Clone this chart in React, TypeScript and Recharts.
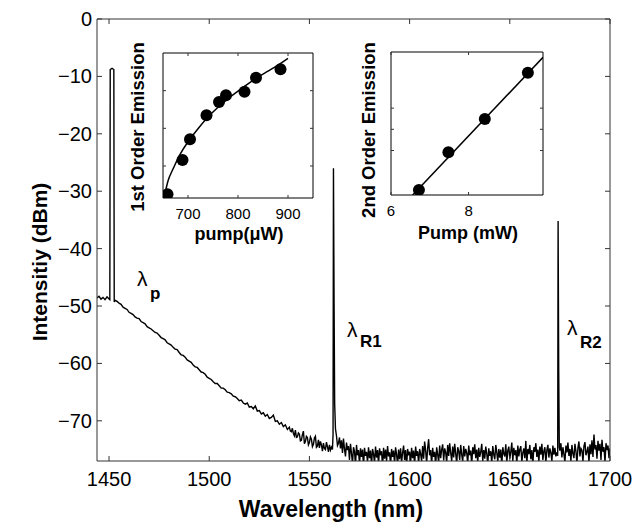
import React from 'react';
import { LineChart, Line, XAxis, YAxis, ComposedChart, Scatter } from 'recharts';

const FONT = '"Liberation Sans", Arial, Helvetica, sans-serif';
const AXIS = '#333';

// ---- main spectrum ----
const xTicks = [1450, 1500, 1550, 1600, 1650, 1700];
const yTicks = [0, -10, -20, -30, -40, -50, -60, -70];

// plateau left of the pump and the pump line itself
const pumpWl = [1444, 1445, 1446, 1447, 1448, 1449, 1449.8, 1450.4, 1450.6, 1451.5, 1452.4, 1452.6, 1453];
const pumpDb = [-48.6, -48.3, -48.8, -48.5, -48.9, -48.4, -48.7, -48.9, -8.8, -8.6, -8.8, -49.3, -49.0];

// falling pump wing, 1454..1539 nm every 1 nm
const wingDb = [
  -49.2, -49.5, -49.7, -50.2, -50.4, -50.6, -51.1, -51.3, -51.5, -51.9,
  -52.1, -52.2, -52.7, -52.9, -53.1, -53.6, -53.8, -54.0, -54.3, -54.6,
  -54.7, -55.1, -55.5, -55.7, -55.9, -56.4, -56.6, -56.8, -57.2, -57.5,
  -57.6, -58.1, -58.5, -58.6, -58.9, -59.4, -59.6, -59.8, -60.3, -60.6,
  -60.7, -61.1, -61.5, -61.6, -61.9, -62.4, -62.6, -62.8, -63.2, -63.5,
  -63.5, -63.9, -64.3, -64.3, -64.6, -65.0, -65.1, -65.3, -65.7, -65.8,
  -66.1, -66.5, -66.4, -66.9, -67.1, -66.9, -67.6, -67.5, -67.9, -67.4,
  -68.3, -68.2, -68.8, -68.6, -69.2, -68.9, -69.6, -69.4, -69.0, -70.1,
  -70.0, -70.6, -70.3, -71.0, -70.7, -71.5,
];

// noisy tail before the first Stokes line, 1540..1561.5 nm every 0.5 nm
const tailDb = [
  -71.1, -71.8, -71.9, -71.3, -72.2, -72.6, -71.6, -72.9, -72.8, -72.1,
  -72.3, -73.5, -73.4, -72.4, -71.8, -74.0, -73.6, -72.7, -72.9, -74.2,
  -73.8, -72.8, -73.2, -74.5, -74.1, -73.0, -72.7, -74.6, -74.4, -73.3,
  -74.7, -73.6, -74.2, -75.3, -73.9, -74.8, -75.0, -73.7, -74.5, -75.4,
  -74.2, -75.1, -74.6, -75.0,
];

const r1Wl = [1561.8, 1562.0, 1562.3, 1562.6, 1563.0, 1563.5, 1564.0];
const r1Db = [-72.4, -26.0, -49, -67, -71.4, -72.6, -74.3];

// noise floor, 1564.5..1673.5 nm every 0.5 nm
const floorDb = [
  -73.9, -72.9, -74.8, -73.4, -75.6, -73.1, -74.9, -76.2, -73.8, -75.1,
  -74.4, -76.8, -74.0, -75.7, -77.4, -74.6, -75.3, -77.8, -74.2, -76.0,
  -75.1, -77.6, -74.8, -76.3, -75.0, -77.9, -74.7, -76.1, -75.4, -77.2,
  -74.6, -76.5, -75.2, -77.7, -74.9, -75.8, -77.3, -74.5, -76.4, -75.1,
  -77.5, -74.8, -76.0, -75.3, -78.0, -74.7, -76.6, -75.0, -77.1, -74.4,
  -76.2, -75.5, -77.8, -74.9, -76.3, -75.2, -77.4, -74.6, -75.9, -77.6,
  -75.0, -76.7, -74.8, -77.2, -75.6, -74.3, -76.8, -75.1, -77.9, -74.9,
  -76.0, -75.4, -77.3, -74.7, -76.5, -75.2, -77.7, -74.5, -76.1, -75.3,
  -77.5, -74.9, -75.8, -77.0, -74.4, -76.6, -73.6, -75.2, -77.4, -74.8,
  -73.2, -76.0, -75.1, -77.6, -74.7, -76.3, -75.4, -77.8, -74.6, -75.9,
  -77.2, -74.3, -76.5, -75.0, -74.1, -76.9, -74.8, -75.5, -77.3, -74.2,
  -76.1, -73.9, -75.6, -77.0, -74.5, -76.4, -74.0, -75.7, -77.5, -74.6,
  -75.3, -76.8, -74.2, -75.9, -77.1, -74.4, -76.2, -74.9, -75.6, -77.4,
  -74.3, -76.0, -75.2, -77.7, -74.6, -75.8, -74.1, -76.5, -75.0, -77.2,
  -74.7, -76.3, -75.4, -74.0, -77.0, -75.1, -76.6, -74.5, -75.7, -77.6,
  -74.8, -76.1, -75.3, -77.4, -74.4, -75.9, -76.7, -74.2, -75.5, -77.1,
  -74.9, -76.4, -75.0, -77.8, -74.6, -75.7, -76.2, -74.1, -77.3, -75.2,
  -74.5, -76.6, -75.4, -73.8, -77.0, -74.7, -76.0, -75.1, -77.5, -74.3,
  -76.2, -75.0, -74.4, -77.2, -75.6, -74.8, -76.5, -73.5, -77.4, -74.9,
  -75.8, -74.2, -76.7, -75.1, -77.6, -74.6, -75.4, -73.9, -76.3, -75.0,
  -77.1, -74.5, -75.9, -74.0, -76.8, -75.3, -74.6, -77.3, -75.1, -74.2,
  -76.4, -74.8, -75.6, -77.0, -74.3, -75.9, -74.7, -76.2, -75.5,
];

const r2Wl = [1673.9, 1674.1, 1674.4, 1674.7];
const r2Db = [-76.1, -35.2, -61, -74.6];

// floor after the second Stokes line, 1675..1700 nm every 0.5 nm
const endDb = [
  -75.2, -73.9, -76.4, -74.6, -75.8, -77.2, -74.3, -75.5, -73.8, -76.1,
  -74.9, -77.0, -74.2, -75.7, -76.5, -74.0, -75.3, -77.4, -74.7, -73.6,
  -76.2, -74.8, -75.1, -77.1, -74.4, -73.7, -76.0, -75.4, -74.5, -77.3,
  -74.1, -75.8, -73.4, -76.3, -72.4, -75.0, -74.2, -76.6, -73.5, -75.2,
  -74.0, -76.8, -73.3, -75.4, -74.6, -77.2, -73.9, -75.1, -74.3, -76.5,
  -74.8,
];

// ---- inset 1: first order emission vs pump (uW) ----
const pump1 = [659, 689, 704, 737, 762, 776, 813, 836, 885];
const emis1 = [-0.75, 0.16, 0.71, 1.35, 1.7, 1.88, 1.97, 2.34, 2.57];
const fit1X = [654, 660, 670, 685, 700, 720, 740, 760, 780, 800, 820, 840, 860, 880, 900];
const fit1Y = [-0.73, -0.4, -0.08, 0.33, 0.64, 0.99, 1.3, 1.56, 1.79, 1.99, 2.18, 2.36, 2.52, 2.68, 2.86];

// ---- inset 2: second order emission vs pump (mW) ----
const pump2 = [6.72, 7.48, 8.42, 9.53];
const emis2 = [0.14, 1.92, 3.49, 5.67];
const fit2X = [6.56, 9.92];
const fit2Y = [-0.1, 6.4];

const seg = (start: number, step: number, vals: number[]) => vals.map((y, i) => ({ x: start + i * step, y }));
const pair = (xs: number[], ys: number[]) => xs.map((x, i) => ({ x, y: ys[i] }));

const spectrum = [
  ...pair(pumpWl, pumpDb),
  ...seg(1454, 1, wingDb),
  ...seg(1540, 0.5, tailDb),
  ...pair(r1Wl, r1Db),
  ...seg(1564.5, 0.5, floorDb),
  ...pair(r2Wl, r2Db),
  ...seg(1675, 0.5, endDb),
];

const fmtDb = (v: number) => (v < 0 ? '\u2212' + Math.abs(v) : String(v));

// inward ticks, MATLAB style
const bottomTick = (len: number, size: number, dy: number) => (p: any) => (
  <g>
    <line x1={p.x} y1={p.y} x2={p.x} y2={p.y - len} stroke={AXIS} />
    <text x={p.x} y={p.y + dy} textAnchor="middle" fontSize={size} fontFamily={FONT} fill="#000">
      {p.payload.value}
    </text>
  </g>
);
const topTick = (len: number) => (p: any) => <line x1={p.x} y1={p.y} x2={p.x} y2={p.y + len} stroke={AXIS} />;
const leftTick = (len: number, label: boolean) => (p: any) => (
  <g>
    <line x1={p.x} y1={p.y} x2={p.x + len} y2={p.y} stroke={AXIS} />
    {label && (
      <text x={p.x - 5} y={p.y + 7} textAnchor="end" fontSize={20} fontFamily={FONT} fill="#000">
        {fmtDb(p.payload.value)}
      </text>
    )}
  </g>
);
const rightTick = (len: number) => (p: any) => <line x1={p.x} y1={p.y} x2={p.x - len} y2={p.y} stroke={AXIS} />;

const dot = (p: any) => <circle cx={p.cx} cy={p.cy} r={6} fill="#000" />;

function Inset({ pts, fit, xDomain, xTicksIn, yDomain, yTicksIn, margin }: any) {
  return (
    <ComposedChart width={205} height={215} margin={margin}>
      <XAxis xAxisId="b" type="number" dataKey="x" domain={xDomain} ticks={xTicksIn} allowDataOverflow interval={0}
        tickSize={0} tickMargin={0} axisLine={{ stroke: '#000' }} tickLine={false} height={1} tick={bottomTick(3, 15, 21)} />
      <XAxis xAxisId="t" orientation="top" type="number" dataKey="x" domain={xDomain} ticks={xTicksIn} allowDataOverflow interval={0}
        tickSize={0} tickMargin={0} axisLine={{ stroke: '#000' }} tickLine={false} height={1} tick={topTick(3)} />
      <YAxis yAxisId="l" type="number" dataKey="y" domain={yDomain} ticks={yTicksIn} allowDataOverflow interval={0}
        tickSize={0} tickMargin={0} axisLine={{ stroke: '#000' }} tickLine={false} width={1} tick={leftTick(3, false)} />
      <YAxis yAxisId="r" orientation="right" type="number" dataKey="y" domain={yDomain} ticks={yTicksIn} allowDataOverflow interval={0}
        tickSize={0} tickMargin={0} axisLine={{ stroke: '#000' }} tickLine={false} width={1} tick={rightTick(3)} />
      <Line xAxisId="b" yAxisId="l" data={fit} dataKey="y" type="monotone" stroke="#000" strokeWidth={1.5} dot={false} isAnimationActive={false} />
      <Scatter xAxisId="b" yAxisId="l" data={pts} dataKey="y" shape={dot} isAnimationActive={false} />
    </ComposedChart>
  );
}

export default function App() {
  const txt = { fontFamily: FONT, fill: '#000' } as const;
  return (
    <div style={{ position: 'absolute', left: 0, top: 0, width: 635, height: 523, background: '#fff', overflow: 'hidden' }}>
      <LineChart width={635} height={523} data={spectrum} margin={{ top: 18, right: 24, bottom: 61, left: 96 }}>
        <XAxis type="number" dataKey="x" domain={[1444, 1700]} ticks={xTicks} allowDataOverflow interval={0}
          tickSize={0} tickMargin={0} height={1} axisLine={{ stroke: AXIS }} tickLine={false} tick={bottomTick(5, 20, 25)} />
        <XAxis xAxisId="top" orientation="top" type="number" dataKey="x" domain={[1444, 1700]} ticks={xTicks} allowDataOverflow interval={0}
          tickSize={0} tickMargin={0} height={1} axisLine={{ stroke: AXIS }} tickLine={false} tick={topTick(5)} />
        <YAxis type="number" domain={[-77, 0]} ticks={yTicks} allowDataOverflow interval={0}
          tickSize={0} tickMargin={0} width={1} axisLine={{ stroke: AXIS }} tickLine={false} tick={leftTick(5, true)} />
        <YAxis yAxisId="right" orientation="right" type="number" domain={[-77, 0]} ticks={yTicks} allowDataOverflow interval={0}
          tickSize={0} tickMargin={0} width={1} axisLine={{ stroke: AXIS }} tickLine={false} tick={rightTick(5)} />
        <Line dataKey="y" type="linear" stroke="#000" strokeWidth={1.4} dot={false} isAnimationActive={false} />
      </LineChart>

      <div style={{ position: 'absolute', left: 115, top: 30 }}>
        <Inset pts={pair(pump1, emis1)} fit={pair(fit1X, fit1Y)} xDomain={[650, 950]} xTicksIn={[700, 800, 900]}
          yDomain={[-0.85, 3]} yTicksIn={[0, 1, 2]} margin={{ top: 22, right: 6, bottom: 46, left: 47 }} />
      </div>
      <div style={{ position: 'absolute', left: 345, top: 30 }}>
        <Inset pts={pair(pump2, emis2)} fit={pair(fit2X, fit2Y)} xDomain={[6, 9.92]} xTicksIn={[6, 8]}
          yDomain={[-0.1, 6.65]} yTicksIn={[2, 3, 4]} margin={{ top: 21, right: 6, bottom: 49, left: 45 }} />
      </div>

      <svg width={635} height={523} style={{ position: 'absolute', left: 0, top: 0, pointerEvents: 'none' }}>
        <text {...txt} x={47} y={262} fontSize={21} fontWeight="bold" textAnchor="middle" transform="rotate(-90 47 262)">
          Intensitiy (dBm)
        </text>
        <text {...txt} x={331} y={517} fontSize={23} fontWeight="bold" textAnchor="middle">Wavelength (nm)</text>

        <text {...txt} x={144} y={127} fontSize={18.5} fontWeight="bold" textAnchor="middle" transform="rotate(-90 144 127)">
          1st Order Emission
        </text>
        <text {...txt} x={239} y={240} fontSize={18} fontWeight="bold" textAnchor="middle">pump(μW)</text>
        <text {...txt} x={375} y={130} fontSize={18.5} fontWeight="bold" textAnchor="middle" transform="rotate(-90 375 130)">
          2nd Order Emission
        </text>
        <text {...txt} x={468} y={239} fontSize={18} fontWeight="bold" textAnchor="middle">Pump (mW)</text>

        <text {...txt} x={137} y={286} fontSize={21}>λ</text>
        <text {...txt} x={150} y={299} fontSize={17} fontWeight="bold">p</text>
        <text {...txt} x={347} y={337} fontSize={21}>λ</text>
        <text {...txt} x={360} y={347} fontSize={17} fontWeight="bold">R1</text>
        <text {...txt} x={567} y={335} fontSize={21}>λ</text>
        <text {...txt} x={580} y={348} fontSize={17} fontWeight="bold">R2</text>
      </svg>
    </div>
  );
}
